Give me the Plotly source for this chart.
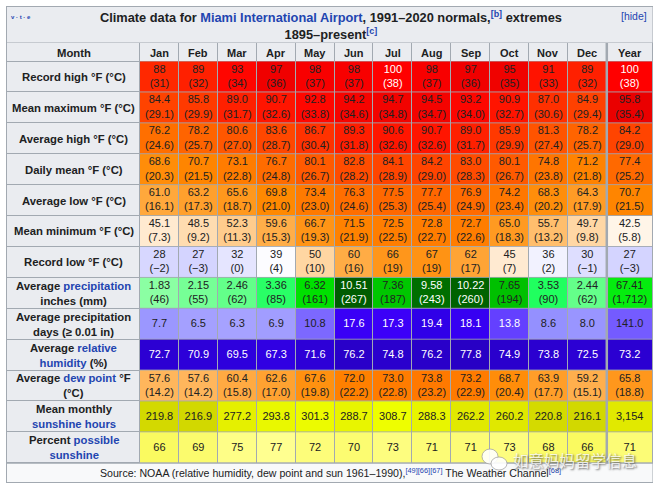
import plotly.graph_objects as go

############### DATA ###############
MONTHS = ['Jan', 'Feb', 'Mar', 'Apr', 'May', 'Jun', 'Jul', 'Aug', 'Sep', 'Oct', 'Nov', 'Dec', 'Year']

record_high_f = [88, 89, 93, 97, 98, 98, 100, 98, 97, 95, 91, 89, 100]
record_high_c = [31, 32, 34, 36, 37, 37, 38, 37, 36, 35, 33, 32, 38]
mean_max_f = [84.4, 85.8, 89.0, 90.7, 92.8, 94.2, 94.7, 94.5, 93.2, 90.9, 87.0, 84.9, 95.8]
mean_max_c = [29.1, 29.9, 31.7, 32.6, 33.8, 34.6, 34.8, 34.7, 34.0, 32.7, 30.6, 29.4, 35.4]
avg_high_f = [76.2, 78.2, 80.6, 83.6, 86.7, 89.3, 90.6, 90.7, 89.0, 85.9, 81.3, 78.2, 84.2]
avg_high_c = [24.6, 25.7, 27.0, 28.7, 30.4, 31.8, 32.6, 32.6, 31.7, 29.9, 27.4, 25.7, 29.0]
daily_mean_f = [68.6, 70.7, 73.1, 76.7, 80.1, 82.8, 84.1, 84.2, 83.0, 80.1, 74.8, 71.2, 77.4]
daily_mean_c = [20.3, 21.5, 22.8, 24.8, 26.7, 28.2, 28.9, 29.0, 28.3, 26.7, 23.8, 21.8, 25.2]
avg_low_f = [61.0, 63.2, 65.6, 69.8, 73.4, 76.3, 77.5, 77.7, 76.9, 74.2, 68.3, 64.3, 70.7]
avg_low_c = [16.1, 17.3, 18.7, 21.0, 23.0, 24.6, 25.3, 25.4, 24.9, 23.4, 20.2, 17.9, 21.5]
mean_min_f = [45.1, 48.5, 52.3, 59.6, 66.7, 71.5, 72.5, 72.8, 72.7, 65.0, 55.7, 49.7, 42.5]
mean_min_c = [7.3, 9.2, 11.3, 15.3, 19.3, 21.9, 22.5, 22.7, 22.6, 18.3, 13.2, 9.8, 5.8]
record_low_f = [28, 27, 32, 39, 50, 60, 66, 67, 62, 45, 36, 30, 27]
record_low_c = [-2, -3, 0, 4, 10, 16, 19, 19, 17, 7, 2, -1, -3]
precip_in = [1.83, 2.15, 2.46, 3.36, 6.32, 10.51, 7.36, 9.58, 10.22, 7.65, 3.53, 2.44, 67.41]
precip_mm = [46, 55, 62, 85, 161, 267, 187, 243, 260, 194, 90, 62, 1712]
precip_days = [7.7, 6.5, 6.3, 6.9, 10.8, 17.6, 17.3, 19.4, 18.1, 13.8, 8.6, 8.0, 141.0]
humidity = [72.7, 70.9, 69.5, 67.3, 71.6, 76.2, 74.8, 76.2, 77.8, 74.9, 73.8, 72.5, 73.2]
dew_point_f = [57.6, 57.6, 60.4, 62.6, 67.6, 72.0, 73.0, 73.8, 73.2, 68.7, 63.9, 59.2, 65.8]
dew_point_c = [14.2, 14.2, 15.8, 17.0, 19.8, 22.2, 22.8, 23.2, 22.9, 20.4, 17.7, 15.1, 18.8]
sun_hours = [219.8, 216.9, 277.2, 293.8, 301.3, 288.7, 308.7, 288.3, 262.2, 260.2, 220.8, 216.1, 3154]
sun_percent = [66, 69, 75, 77, 72, 70, 73, 71, 71, 73, 68, 66, 71]

BLUE = '#1f45b0'


def link(text):
    return f'<span style="color:{BLUE}">{text}</span>'


LABELS = [
    'Record high °F (°C)',
    'Mean maximum °F (°C)',
    'Average high °F (°C)',
    'Daily mean °F (°C)',
    'Average low °F (°C)',
    'Mean minimum °F (°C)',
    'Record low °F (°C)',
    f'Average {link("precipitation")}<br>inches (mm)',
    'Average precipitation<br>days (≥ 0.01 in)',
    f'Average {link("relative")}<br>{link("humidity")} (%)',
    f'Average {link("dew point")} °F<br>(°C)',
    f'Mean monthly<br>{link("sunshine hours")}',
    f'Percent {link("possible")}<br>{link("sunshine")}',
]

############### COLOUR SCALES (value, colour) ###############
TEMP = [(27, '#d4d4ff'), (40, '#ffffff'), (61, '#ffa83c'), (70, '#ff8800'), (76, '#ff7000'),
        (85, '#ff4000'), (89, '#ff2000'), (93, '#ff0600'), (96, '#e80000'), (98, '#f80000'),
        (100, '#ff0000')]
RAIN = [(1.5, '#a0ffb0'), (3.5, '#20ff60'), (6, '#00e800'), (8, '#00b800'), (9.5, '#007000'), (10.5, '#005c00')]
DAYS = [(6, '#a8a4ff'), (8.6, '#9490ff'), (10.8, '#7c68ff'), (13.8, '#6440ff'), (17.3, '#3c00f8'), (19.4, '#3000e8')]
HUMID = [(67, '#3000e4'), (78, '#2800c4')]
SUN = [(216, '#d2d800'), (260, '#e0e800'), (310, '#eeff00')]
PCT = [(66, '#fafa60'), (77, '#ffff90')]

# values, second line, colour scale, divisor of the Year cell, value from which the text is white
ROWS = [
    (record_high_f, record_high_c, TEMP, 1, 100),
    (mean_max_f, mean_max_c, TEMP, 1, 100),
    (avg_high_f, avg_high_c, TEMP, 1, 100),
    (daily_mean_f, daily_mean_c, TEMP, 1, 100),
    (avg_low_f, avg_low_c, TEMP, 1, 100),
    (mean_min_f, mean_min_c, TEMP, 1, 100),
    (record_low_f, record_low_c, TEMP, 1, 100),
    (precip_in, precip_mm, RAIN, 12, 9),
    (precip_days, None, DAYS, 12, 12),
    (humidity, None, HUMID, 1, 0),
    (dew_point_f, dew_point_c, TEMP, 1, 100),
    (sun_hours, None, SUN, 12, 1000),
    (sun_percent, None, PCT, 1, 1000),
]

############### GEOMETRY (page pixels) ###############
LEFT, LABEL_RIGHT, RIGHT = 7, 140, 652.5
TOP, TITLE_BOTTOM, HEAD_BOTTOM, BOTTOM = 7, 43, 61.5, 482
COL_W, ROW_H = 38.9, 30.9

x_edges = [LABEL_RIGHT + COL_W * i for i in range(13)] + [RIGHT]
y_edges = [HEAD_BOTTOM + ROW_H * i for i in range(14)]
x_mid = [(a + b) / 2 for a, b in zip(x_edges[:-1], x_edges[1:])]
y_mid = [(a + b) / 2 for a, b in zip(y_edges[:-1], y_edges[1:])]
SEP_X = x_edges[12]
HEAD_COLOR = '#eaecf0'
GRID_COLOR = '#a2a9b1'


def fmt(v):
    return f'{v:,}'.replace('-', '−')


def scale(stops):
    lo, hi = stops[0][0], stops[-1][0]
    return [[(v - lo) / (hi - lo), c] for v, c in stops], lo, hi


def flat_cells(x, y, n_cols, n_rows):
    return go.Heatmap(x=x, y=y, z=[[0] * n_cols for _ in range(n_rows)],
                      colorscale=[[0, HEAD_COLOR], [1, HEAD_COLOR]], showscale=False,
                      xgap=1, ygap=1, hoverinfo='skip')


fig = go.Figure()

# header row and label column
fig.add_trace(flat_cells(x_edges, [TITLE_BOTTOM, HEAD_BOTTOM], 13, 1))
fig.add_trace(flat_cells([LEFT, LABEL_RIGHT], [TITLE_BOTTOM] + y_edges, 1, 14))

# value cells, one heatmap per row because each has its own scale
text_x, text_y, text_s, text_c = [], [], [], []
for i, (vals, second, stops, year_div, white_from) in enumerate(ROWS):
    colorscale, zmin, zmax = scale(stops)
    z = vals[:-1] + [vals[-1] / year_div]
    fig.add_trace(go.Heatmap(x=x_edges, y=[y_edges[i], y_edges[i + 1]], z=[z],
                             colorscale=colorscale, zmin=zmin, zmax=zmax, showscale=False,
                             xgap=1, ygap=1, hoverinfo='skip'))
    for j, v in enumerate(vals):
        label = fmt(v) if second is None else f'{fmt(v)}<br>({fmt(second[j])})'
        text_x.append(x_mid[j])
        text_y.append(y_mid[i])
        text_s.append(label)
        text_c.append('#ffffff' if z[j] >= white_from else '#202122')

fig.add_trace(go.Scatter(x=text_x, y=text_y, text=text_s, mode='text',
                         textposition='middle center', hoverinfo='skip',
                         textfont=dict(family='Liberation Sans', size=11, color=text_c)))

# table background, title box, source box
shapes = [
    dict(type='rect', layer='below', x0=LEFT - 1, x1=RIGHT + 0.5, y0=TOP - 1, y1=BOTTOM + 1,
         fillcolor=GRID_COLOR, line_width=0),
    dict(type='rect', layer='below', x0=LEFT, x1=RIGHT, y0=TOP, y1=TITLE_BOTTOM - 0.5,
         fillcolor=HEAD_COLOR, line_width=0),
    dict(type='rect', layer='below', x0=LEFT, x1=RIGHT, y0=y_edges[-1] + 0.5, y1=BOTTOM,
         fillcolor='#f8f9fa', line_width=0),
    dict(type='line', x0=SEP_X, x1=SEP_X, y0=TITLE_BOTTOM, y1=y_edges[-1],
         line=dict(color=GRID_COLOR, width=2.5)),
    # wechat mark of the watermark
    dict(type='circle', x0=482, x1=498, y0=449, y1=464, fillcolor='rgba(255,255,255,0.9)',
         line=dict(color='#9a9a9a', width=0.7)),
    dict(type='circle', x0=491, x1=507, y0=457, y1=470, fillcolor='rgba(255,255,255,0.9)',
         line=dict(color='#9a9a9a', width=0.7)),
]


def note(x, y, text, size=11, color='#202122', family='Liberation Sans', **kw):
    return dict(x=x, y=y, xref='x', yref='y', text=text, showarrow=False,
                font=dict(family=family, size=size, color=color, **kw),
                xanchor='center', yanchor='middle')


title = (f'<b>Climate data for {link("Miami International Airport")}, 1991–2020 normals,'
         f'<sup>{link("[b]")}</sup> extremes<br>1895–present<sup>{link("[c]")}</sup></b>')
source = ('Source: NOAA (relative humidity, dew point and sun 1961–1990),'
          f'<sup>{link("[49][66][67]")}</sup> The Weather Channel<sup>{link("[68]")}</sup>')

annotations = [
    note(331, 25.5, title, size=12.8),
    note(21, 16.5, f'<b>{link("v · t · e")}</b>', size=6),
    note(633.5, 16, link('[hide]'), size=10.5),
    note(73.5, 52.5, '<b>Month</b>', size=11.3),
    note(330, 472.5, source, size=10.6),
    note(574.5, 459.5, '如意妈妈留学信息', size=15.5, color='rgba(255,255,255,0.8)',
         family='Noto Sans CJK SC', shadow='1px 1px 2px #444444'),
]
annotations += [note(x_mid[j], 52.5, f'<b>{m}</b>', size=11) for j, m in enumerate(MONTHS)]
annotations += [note(73.5, y_mid[i], f'<b>{t}</b>', size=11.3) for i, t in enumerate(LABELS)]

fig.update_layout(
    width=660, height=489,
    margin=dict(l=0, r=0, t=0, b=0),
    paper_bgcolor='#ffffff', plot_bgcolor='#ffffff',
    showlegend=False,
    shapes=shapes,
    annotations=annotations,
    xaxis=dict(range=[0, 660], visible=False, fixedrange=True),
    yaxis=dict(range=[489, 0], visible=False, fixedrange=True),
)

# the page's default body margin would push the table 8px off
fig.write_html("out.html", config=dict(displayModeBar=False),
               post_script="document.body.style.margin='0';")
